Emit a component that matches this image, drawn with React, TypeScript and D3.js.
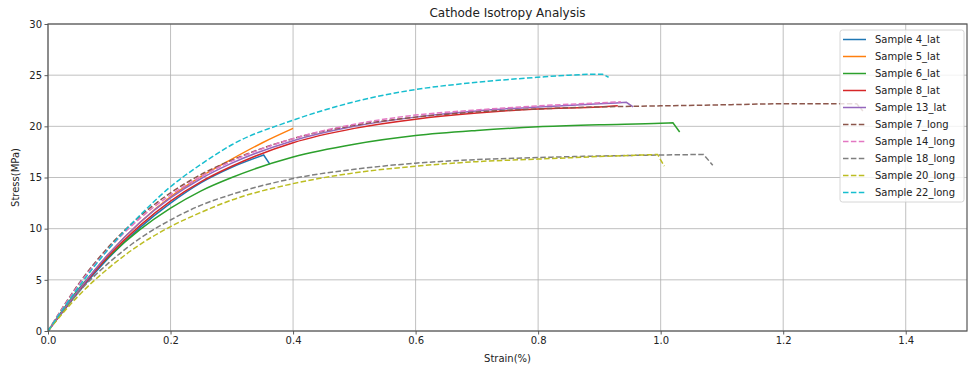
import React, { useRef, useEffect } from "react";
import * as d3 from "d3";

// strain (%) / stress (MPa)
const strain4 = [0, 0.05, 0.1, 0.15, 0.2, 0.25, 0.3, 0.352, 0.362];
const stress4 = [0, 3.8, 7.2, 10.1, 12.5, 14.5, 16.0, 17.2, 16.3];

const strain5 = [0, 0.05, 0.1, 0.15, 0.2, 0.25, 0.3, 0.35, 0.4];
const stress5 = [0, 4.0, 7.6, 10.6, 13.1, 15.1, 16.8, 18.4, 19.8];

const strain6 = [0, 0.05, 0.1, 0.15, 0.2, 0.25, 0.3, 0.4, 0.5, 0.6, 0.7, 0.8, 0.9, 1.0, 1.02, 1.031];
const stress6 = [0, 4.1, 7.3, 9.9, 12.0, 13.7, 15.0, 17.0, 18.25, 19.1, 19.6, 19.95, 20.15, 20.3, 20.35, 19.45];

const strain8 = [0, 0.05, 0.1, 0.15, 0.2, 0.25, 0.3, 0.4, 0.5, 0.6, 0.7, 0.8, 0.9, 0.93];
const stress8 = [0, 3.9, 7.4, 10.3, 12.7, 14.6, 16.1, 18.4, 19.8, 20.7, 21.3, 21.7, 21.9, 22.0];

const strain13 = [0, 0.05, 0.1, 0.15, 0.2, 0.25, 0.3, 0.4, 0.5, 0.6, 0.7, 0.8, 0.9, 0.944, 0.955];
const stress13 = [0, 4.0, 7.6, 10.6, 13.0, 14.9, 16.4, 18.6, 20.0, 20.9, 21.5, 21.9, 22.2, 22.35, 21.9];

const strain7 = [0, 0.05, 0.1, 0.15, 0.2, 0.25, 0.3, 0.4, 0.5, 0.6, 0.7, 0.8, 0.9, 1.0, 1.1, 1.2, 1.3, 1.32, 1.33];
const stress7 = [0, 4.6, 8.3, 11.2, 13.5, 15.3, 16.7, 18.8, 20.1, 20.9, 21.4, 21.7, 21.9, 22.0, 22.1, 22.2, 22.2, 22.2, 21.5];

const strain14 = [0, 0.05, 0.1, 0.15, 0.2, 0.25, 0.3, 0.4, 0.5, 0.6, 0.7, 0.8, 0.9, 0.935];
const stress14 = [0, 4.5, 8.1, 11.0, 13.3, 15.1, 16.6, 18.8, 20.2, 21.1, 21.6, 22.0, 22.3, 22.4];

const strain18 = [0, 0.05, 0.1, 0.15, 0.2, 0.25, 0.3, 0.4, 0.5, 0.6, 0.7, 0.8, 0.9, 1.0, 1.07, 1.085];
const stress18 = [0, 3.8, 6.7, 9.05, 10.85, 12.3, 13.35, 14.9, 15.8, 16.4, 16.75, 16.95, 17.1, 17.2, 17.25, 16.2];

const strain20 = [0, 0.05, 0.1, 0.15, 0.2, 0.25, 0.3, 0.4, 0.5, 0.6, 0.7, 0.8, 0.9, 0.995, 1.006];
const stress20 = [0, 3.46, 6.2, 8.45, 10.2, 11.6, 12.8, 14.4, 15.45, 16.1, 16.55, 16.8, 17.05, 17.25, 16.1];

const strain22 = [0, 0.05, 0.1, 0.15, 0.2, 0.25, 0.3, 0.4, 0.5, 0.6, 0.7, 0.8, 0.85, 0.9, 0.905, 0.915];
const stress22 = [0, 4.3, 8.1, 11.3, 14.1, 16.3, 18.2, 20.6, 22.4, 23.6, 24.3, 24.8, 25.0, 25.1, 25.1, 24.8];

const labels = [
  "Sample 4_lat", "Sample 5_lat", "Sample 6_lat", "Sample 8_lat", "Sample 13_lat",
  "Sample 7_long", "Sample 14_long", "Sample 18_long", "Sample 20_long", "Sample 22_long",
];
const colors = [
  "#1f77b4", "#ff7f0e", "#2ca02c", "#d62728", "#9467bd",
  "#8c564b", "#e377c2", "#7f7f7f", "#bcbd22", "#17becf",
];
const dashed = [false, false, false, false, false, true, true, true, true, true];
const strains = [strain4, strain5, strain6, strain8, strain13, strain7, strain14, strain18, strain20, strain22];
const stresses = [stress4, stress5, stress6, stress8, stress13, stress7, stress14, stress18, stress20, stress22];

const xTicks = [0, 0.2, 0.4, 0.6, 0.8, 1.0, 1.2, 1.4];
const yTicks = [0, 5, 10, 15, 20, 25, 30];

const W = 968;
const H = 369;
const margin = { left: 48, right: 1, top: 24, bottom: 38 };
const FONT = "DejaVu Sans, sans-serif";

const App = () => {
  const svgRef = useRef<SVGSVGElement>(null);

  useEffect(() => {
    const svg = d3.select(svgRef.current);
    svg.selectAll("*").remove();

    const x0 = margin.left, x1 = W - margin.right;
    const y0 = H - margin.bottom, y1 = margin.top;
    const xScale = d3.scaleLinear().domain([0, 1.5]).range([x0, x1]);
    const yScale = d3.scaleLinear().domain([0, 30]).range([y0, y1]);

    svg.append("defs").append("clipPath").attr("id", "plotclip")
      .append("rect").attr("x", x0).attr("y", y1).attr("width", x1 - x0).attr("height", y0 - y1);

    // grid
    const grid = svg.append("g").attr("stroke", "#b0b0b0").attr("stroke-width", 0.8);
    xTicks.forEach((t) => {
      grid.append("line").attr("x1", xScale(t)).attr("x2", xScale(t)).attr("y1", y0).attr("y2", y1);
    });
    yTicks.forEach((t) => {
      grid.append("line").attr("x1", x0).attr("x2", x1).attr("y1", yScale(t)).attr("y2", yScale(t));
    });

    // axes
    const xAxis = d3.axisBottom(xScale).tickValues(xTicks).tickFormat(d3.format(".1f")).tickSize(3.5).tickSizeOuter(0);
    const yAxis = d3.axisLeft(yScale).tickValues(yTicks).tickFormat((v) => `${v}`).tickSize(3.5).tickSizeOuter(0);
    const gx = svg.append("g").attr("transform", `translate(0,${y0})`).call(xAxis);
    const gy = svg.append("g").attr("transform", `translate(${x0},0)`).call(yAxis);
    [gx, gy].forEach((g) => {
      g.select(".domain").remove();
      g.selectAll("line").attr("stroke", "#333").attr("stroke-width", 0.8);
      g.selectAll("text").attr("font-family", FONT).attr("font-size", 10).attr("fill", "#222");
    });
    gx.selectAll("text").attr("dy", "0.71em").attr("y", 6);
    gy.selectAll("text").attr("x", -6);

    // lines: smooth loading part, straight failure drop at the end
    const line = d3.line<[number, number]>().x((d) => xScale(d[0])).y((d) => yScale(d[1])).curve(d3.curveMonotoneX);
    const lines = svg.append("g").attr("clip-path", "url(#plotclip)");
    strains.forEach((xs, i) => {
      const pts = xs.map((v, j) => [v, stresses[i][j]] as [number, number]);
      const n = pts.length;
      const drops = pts[n - 1][1] < pts[n - 2][1];
      const d = drops
        ? `${line(pts.slice(0, n - 1))}L${xScale(pts[n - 1][0])},${yScale(pts[n - 1][1])}`
        : line(pts);
      lines.append("path")
        .attr("d", d)
        .attr("fill", "none")
        .attr("stroke", colors[i])
        .attr("stroke-width", 1.5)
        .attr("stroke-dasharray", dashed[i] ? "5.5,2.4" : null);
    });

    // frame
    svg.append("rect")
      .attr("x", x0).attr("y", y1).attr("width", x1 - x0).attr("height", y0 - y1)
      .attr("fill", "none").attr("stroke", "#555").attr("stroke-width", 1.2);

    // labels
    svg.append("text").attr("x", (x0 + x1) / 2).attr("y", 17).attr("text-anchor", "middle")
      .attr("font-family", FONT).attr("font-size", 12).attr("fill", "#222").text("Cathode Isotropy Analysis");
    svg.append("text").attr("x", (x0 + x1) / 2).attr("y", 362).attr("text-anchor", "middle")
      .attr("font-family", FONT).attr("font-size", 10).attr("fill", "#222").text("Strain(%)");
    svg.append("text").attr("transform", `translate(19,${(y0 + y1) / 2}) rotate(-90)`).attr("text-anchor", "middle")
      .attr("font-family", FONT).attr("font-size", 10).attr("fill", "#222").text("Stress(MPa)");

    // legend
    const lg = svg.append("g").attr("transform", "translate(840,30)");
    lg.append("rect").attr("width", 124).attr("height", 172).attr("rx", 2.5)
      .attr("fill", "white").attr("fill-opacity", 0.8).attr("stroke", "#cccccc").attr("stroke-width", 0.8);
    labels.forEach((lab, i) => {
      const yy = 9.5 + i * 17;
      lg.append("line").attr("x1", 3).attr("x2", 26).attr("y1", yy).attr("y2", yy)
        .attr("stroke", colors[i]).attr("stroke-width", 1.5)
        .attr("stroke-dasharray", dashed[i] ? "5.5,2.4" : null);
      lg.append("text").attr("x", 35).attr("y", yy).attr("dy", "0.35em")
        .attr("font-family", FONT).attr("font-size", 10).attr("fill", "#222").text(lab);
    });
  }, []);

  return <svg ref={svgRef} width={W} height={H} style={{ position: "absolute", left: 0, top: 0, background: "white" }} />;
};

export default App;
